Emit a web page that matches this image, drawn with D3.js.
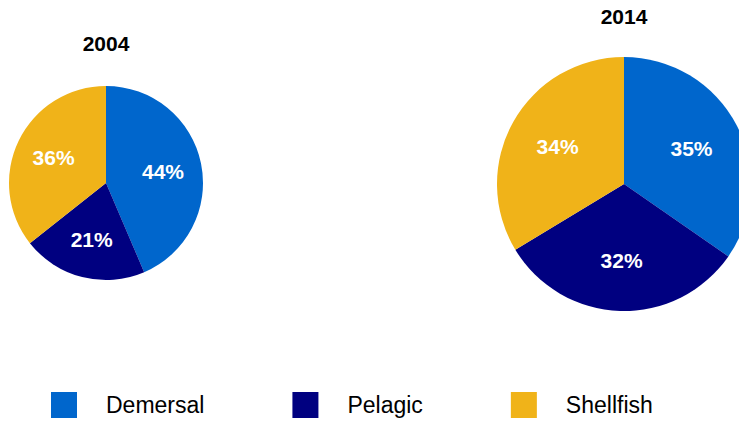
<!DOCTYPE html>
<html>
<head>
<meta charset="utf-8">
<script src="https://cdn.jsdelivr.net/npm/d3@7"></script>
<style>
html,body{margin:0;padding:0;background:#fff;}
svg{display:block;font-family:"Liberation Sans",Arial,sans-serif;}
</style>
</head>
<body>
<svg id="chart" width="739" height="421"></svg>
<script>
const categories = ["Demersal", "Pelagic", "Shellfish"];
const colors = ["#0066cc", "#000080", "#f0b319"];
const years = ["2004", "2014"];
const values2004 = [44, 21, 36];
const values2014 = [35, 32, 34];

const svg = d3.select("#chart");

const pies = [
  {year: years[0], values: values2004, cx: 106, cy: 183, r: 97, titleY: 51},
  {year: years[1], values: values2014, cx: 624, cy: 184, r: 127, titleY: 24}
];

const color = d3.scaleOrdinal().domain(categories).range(colors);
const pie = d3.pie().sort(null).value(d => d.v);

pies.forEach(p => {
  const data = categories.map((c, i) => ({c, v: p.values[i]}));
  const arcs = pie(data);
  const arc = d3.arc().innerRadius(0).outerRadius(p.r);
  const labelArc = d3.arc().innerRadius(p.r * 0.6).outerRadius(p.r * 0.6);
  const g = svg.append("g").attr("transform", `translate(${p.cx},${p.cy})`);
  g.selectAll("path").data(arcs).join("path")
    .attr("d", arc)
    .attr("fill", d => color(d.data.c));
  g.selectAll("text").data(arcs).join("text")
    .attr("transform", d => `translate(${labelArc.centroid(d)})`)
    .attr("text-anchor", "middle")
    .attr("dy", "0.35em")
    .attr("fill", "#fff")
    .attr("font-weight", "bold")
    .attr("font-size", 21)
    .text(d => d.data.v + "%");
  svg.append("text")
    .attr("x", p.cx).attr("y", p.titleY)
    .attr("text-anchor", "middle")
    .attr("font-weight", "bold")
    .attr("font-size", 21)
    .attr("fill", "#000")
    .text(p.year);
});

// legend
const legend = svg.append("g");
let x = 51;
categories.forEach((c) => {
  legend.append("rect")
    .attr("x", x).attr("y", 392).attr("width", 26).attr("height", 26)
    .attr("fill", color(c));
  const t = legend.append("text")
    .attr("x", x + 55).attr("y", 413)
    .attr("font-size", 23)
    .attr("fill", "#000")
    .text(c);
  const w = t.node().getComputedTextLength();
  x = x + 55 + w + 88;
});
</script>
</body>
</html>
